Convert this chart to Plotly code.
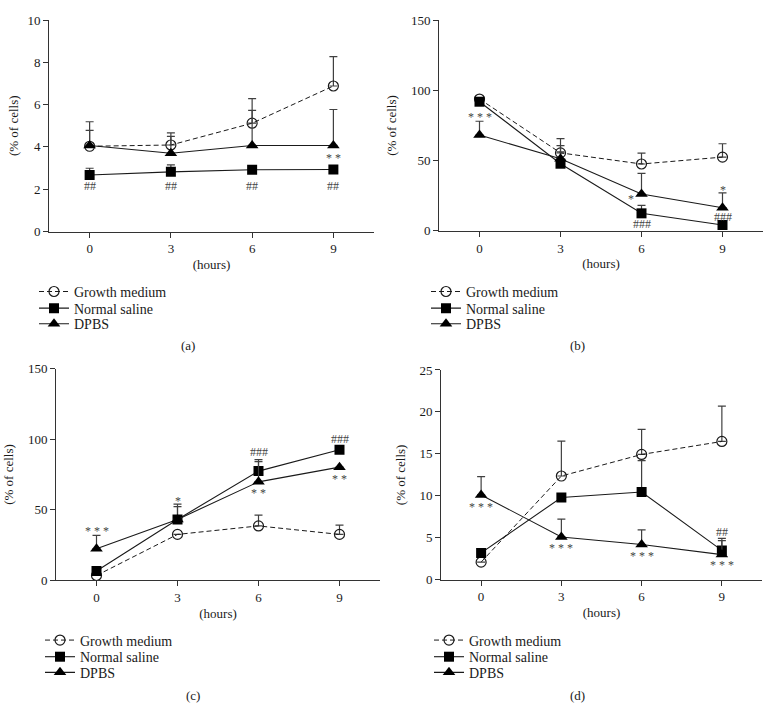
import plotly.graph_objects as go

W, H = 772, 717

hours = [0, 3, 6, 9]
series_names = ["Growth medium", "Normal saline", "DPBS"]

# Panel (a)
gm_a = [4.03, 4.09, 5.12, 6.88]
gm_a_err = [1.16, 0.57, 1.16, 1.39]
ns_a = [2.67, 2.82, 2.92, 2.93]
ns_a_err = [0.32, 0.33, 0.10, 0.16]
dp_a = [4.07, 3.70, 4.07, 4.07]
dp_a_err = [0.71, 0.80, 1.66, 1.70]

# Panel (b)
gm_b = [93.8, 55.5, 47.6, 52.5]
gm_b_err = [0, 10.2, 7.7, 9.5]
ns_b = [91.9, 47.8, 12.5, 4.2]
ns_b_err = [0, 12.8, 5.6, 0]
dp_b = [68.2, 51.3, 26.3, 16.5]
dp_b_err = [9.8, 5.0, 14.6, 10.5]

# Panel (c)
gm_c = [3.5, 32.6, 38.6, 32.6]
gm_c_err = [0, 0, 7.6, 6.5]
ns_c = [6.7, 43.2, 77.4, 92.5]
ns_c_err = [0, 10.9, 8.1, 0]
dp_c = [22.4, 43.2, 69.8, 80.2]
dp_c_err = [9.5, 9.0, 14.3, 0]

# Panel (d)
gm_d = [2.1, 12.36, 14.93, 16.48]
gm_d_err = [0, 4.17, 3.0, 4.21]
ns_d = [3.2, 9.8, 10.46, 3.5]
ns_d_err = [0, 0, 3.74, 1.43]
dp_d = [10.11, 5.1, 4.2, 3.0]
dp_d_err = [2.17, 2.13, 1.75, 1.67]

y_ranges = [[0, 10], [0, 150], [0, 150], [0, 25]]
y_dticks = [2, 50, 50, 5]
panel_labels = ["(a)", "(b)", "(c)", "(d)"]

# significance marks: (panel index, hour, y value, text)
marks = [
    (0, 0, 2.16, "##"), (0, 3, 2.16, "##"), (0, 6, 2.16, "##"), (0, 9, 2.16, "##"),
    (0, 9, 3.55, "* *"),
    (1, 0, 82.7, "* * *"), (1, 5.62, 24.0, "*"), (1, 6, 4.9, "###"),
    (1, 9, 30.4, "*"), (1, 9, 10.2, "###"),
    (2, 0, 36.3, "* * *"), (2, 3, 57.5, "*"), (2, 6, 90.6, "###"), (2, 6, 63.4, "* *"),
    (2, 9, 100.3, "###"), (2, 9, 73.3, "* *"),
    (3, 0, 8.95, "* * *"), (3, 3, 3.97, "* * *"), (3, 6, 3.03, "* * *"),
    (3, 9, 1.95, "* * *"), (3, 9, 5.75, "##"),
]

panels = [
    (gm_a, gm_a_err, ns_a, ns_a_err, dp_a, dp_a_err),
    (gm_b, gm_b_err, ns_b, ns_b_err, dp_b, dp_b_err),
    (gm_c, gm_c_err, ns_c, ns_c_err, dp_c, dp_c_err),
    (gm_d, gm_d_err, ns_d, ns_d_err, dp_d, dp_d_err),
]

# pixel geometry of each panel: x0, x1, ytop, ybottom
geom = [
    (49, 374, 13.3, 229.3),
    (439, 763, 13.3, 228.7),
    (56, 380, 369.3, 585.7),
    (441, 762, 370.7, 585.0),
]
ytitle_standoff = [5, 11, 11, 10]
# legend: left x of legend box, row centre y values
legend_x = [34, 426, 40, 429]
legend_rows = [(291, 308, 324), (291, 308, 324), (647, 664, 680), (647, 664, 680)]
label_pos = [(188, 346), (577, 346), (193, 703), (577, 703)]

FONT = "Liberation Serif, Times New Roman, serif"
INK = "#1a1a1a"
ERR = "#404040"

fig = go.Figure()
layout = dict(
    width=W, height=H,
    margin=dict(l=0, r=0, t=0, b=0),
    paper_bgcolor="white", plot_bgcolor="white",
    font=dict(family=FONT, size=13, color=INK),
    showlegend=True,
    annotations=[],
)

for i, (gm, gme, ns, nse, dp, dpe) in enumerate(panels):
    k = "" if i == 0 else str(i + 1)
    xa, ya = "x" + k, "y" + k
    x0, x1, yt, yb = geom[i]
    lgs = []
    for s in range(3):
        n = i * 3 + s + 1
        lgs.append("legend" if n == 1 else "legend%d" % n)
    common = dict(x=hours, xaxis=xa, yaxis=ya, mode="lines+markers")
    fig.add_trace(go.Scatter(
        y=gm, name=series_names[0], legend=lgs[0], **common,
        line=dict(color=INK, width=1, dash="5px,3px"),
        marker=dict(symbol="circle-open", size=10, color=INK, line=dict(width=1.2, color=INK)),
        error_y=dict(type="data", symmetric=False, array=gme, arrayminus=[0] * 4,
                     color=ERR, thickness=1.2, width=4),
    ))
    fig.add_trace(go.Scatter(
        y=ns, name=series_names[1], legend=lgs[1], **common,
        line=dict(color=INK, width=1.1),
        marker=dict(symbol="square", size=10, color="black"),
        error_y=dict(type="data", symmetric=False, array=nse, arrayminus=[0] * 4,
                     color=ERR, thickness=1.2, width=4),
    ))
    fig.add_trace(go.Scatter(
        y=dp, name=series_names[2], legend=lgs[2], **common,
        line=dict(color=INK, width=1.1),
        marker=dict(symbol="triangle-up", size=11, color="black"),
        error_y=dict(type="data", symmetric=False, array=dpe, arrayminus=[0] * 4,
                     color=ERR, thickness=1.2, width=4),
    ))
    axline = dict(showline=True, linecolor="#333", linewidth=1, ticks="outside",
                  ticklen=5, tickcolor="#333", tickwidth=1, showgrid=False,
                  zeroline=False, tickfont=dict(family=FONT, size=13, color=INK))
    layout["xaxis" + k] = dict(
        domain=[x0 / W, x1 / W], anchor=ya, range=[-1.5, 10.5],
        tickvals=hours, ticktext=[str(h) for h in hours],
        title=dict(text="(hours)", font=dict(family=FONT, size=13), standoff=4),
        **axline)
    layout["yaxis" + k] = dict(
        domain=[1 - yb / H, 1 - yt / H], anchor=xa, range=y_ranges[i],
        dtick=y_dticks[i],
        title=dict(text="(% of cells)", font=dict(family=FONT, size=13),
                   standoff=ytitle_standoff[i]),
        **axline)
    for s in range(3):
        layout[lgs[s]] = dict(x=legend_x[i] / W, y=1 - legend_rows[i][s] / H,
                              xanchor="left", yanchor="middle",
                              xref="paper", yref="paper", bgcolor="rgba(0,0,0,0)",
                              font=dict(family=FONT, size=14, color=INK),
                              tracegroupgap=0, itemwidth=30)
    px, py = label_pos[i]
    layout["annotations"].append(dict(
        x=px / W, y=1 - py / H, xref="paper", yref="paper", text=panel_labels[i],
        xanchor="center", yanchor="middle",
        showarrow=False, font=dict(family=FONT, size=13, color=INK)))

for (p, hx, hy, txt) in marks:
    k = "" if p == 0 else str(p + 1)
    star = "*" in txt
    layout["annotations"].append(dict(
        x=hx, y=hy, xref="x" + k, yref="y" + k, text=txt, showarrow=False,
        xanchor="center", yanchor="middle", yshift=-2 if star else 0,
        font=dict(family=FONT, size=12, color="#444")))

fig.update_layout(**layout)
fig.write_html("out.html", config={"displayModeBar": False},
               post_script="document.body.style.margin='0';document.body.style.overflow='hidden';")
